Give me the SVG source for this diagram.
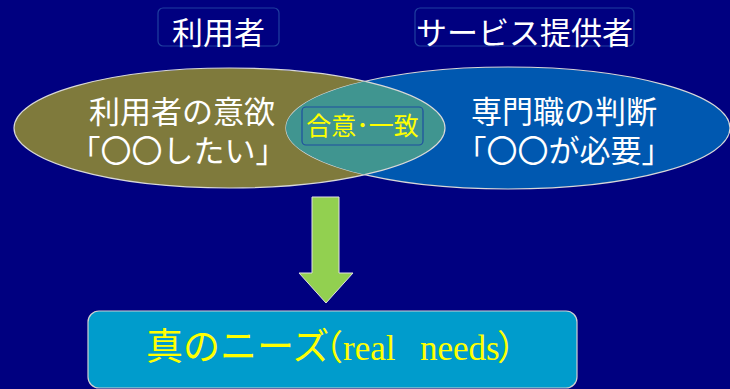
<svg xmlns="http://www.w3.org/2000/svg" width="730" height="389" viewBox="0 0 730 389">
<style>
.jp{font-family:"Noto Sans CJK JP","Noto Sans",sans-serif;}
.w{fill:#ffffff;}
.y{fill:#ffff00;}
.lbl{fill:none;stroke:#1f3f9f;stroke-width:1.2;}
.ell{stroke:#d8d8d8;stroke-width:1.2;}
.sf{font-family:"Liberation Serif","Noto Sans CJK JP",serif;}
</style>
<defs>
<clipPath id="clipR"><ellipse cx="508" cy="128" rx="222" ry="61"/></clipPath>
</defs>
<rect x="0" y="0" width="730" height="389" fill="#000080"/>
<g id="label-user">
<rect class="lbl" x="158" y="8" width="121" height="38" rx="5"/>
<text class="jp w" x="218.5" y="44" font-size="31" text-anchor="middle">利用者</text>
</g>
<g id="label-provider">
<rect class="lbl" x="415" y="8" width="219" height="38" rx="5"/>
<text class="jp w" x="524.5" y="44" font-size="31" text-anchor="middle">サービス提供者</text>
</g>
<g id="ellipse-user">
<ellipse class="ell" cx="229.5" cy="128" rx="215.5" ry="60" fill="#7f7a3c"/>
</g>
<g id="ellipse-provider">
<ellipse class="ell" cx="508" cy="128" rx="222" ry="61" fill="#0058b0"/>
<ellipse cx="229.5" cy="128" rx="215.5" ry="60" fill="#409590" clip-path="url(#clipR)"/>
<ellipse cx="229.5" cy="128" rx="215.5" ry="60" fill="none" class="ell" clip-path="url(#clipR)"/>
</g>
<g id="text-user">
<text class="jp w" font-size="31" text-anchor="middle"><tspan x="182" y="123">利用者の意欲</tspan><tspan x="178" y="162">「〇〇したい」</tspan></text>
</g>
<g id="text-provider">
<text class="jp w" font-size="31" text-anchor="middle"><tspan x="564" y="123">専門職の判断</tspan><tspan x="564" y="162">「〇〇が必要」</tspan></text>
</g>
<g id="agreement">
<rect x="302" y="107" width="121" height="38" rx="4" fill="#409590" stroke="#1f4fa0" stroke-width="1.2"/>
<text class="jp y" x="362.5" y="135" font-size="25" text-anchor="middle">合意･一致</text>
</g>
<g id="connectors">
<path d="M312,197 L339,197 L339,273 L353,273 L326,303 L299,273 L312,273 Z" fill="#92d050" stroke="#e0e0e0" stroke-width="1"/>
</g>
<g id="needs">
<rect x="88" y="311" width="489" height="77" rx="11" fill="#009ccc" stroke="#d0d0d0" stroke-width="1.2"/>
<text y="360" class="y"><tspan class="jp" x="146" font-size="37">真のニーズ</tspan><tspan class="sf" x="308" font-size="35">（</tspan><tspan class="sf" x="343" font-size="35">real</tspan><tspan class="sf" x="420" font-size="35">needs</tspan><tspan class="sf" x="497" font-size="35">）</tspan></text>
</g>
</svg>
